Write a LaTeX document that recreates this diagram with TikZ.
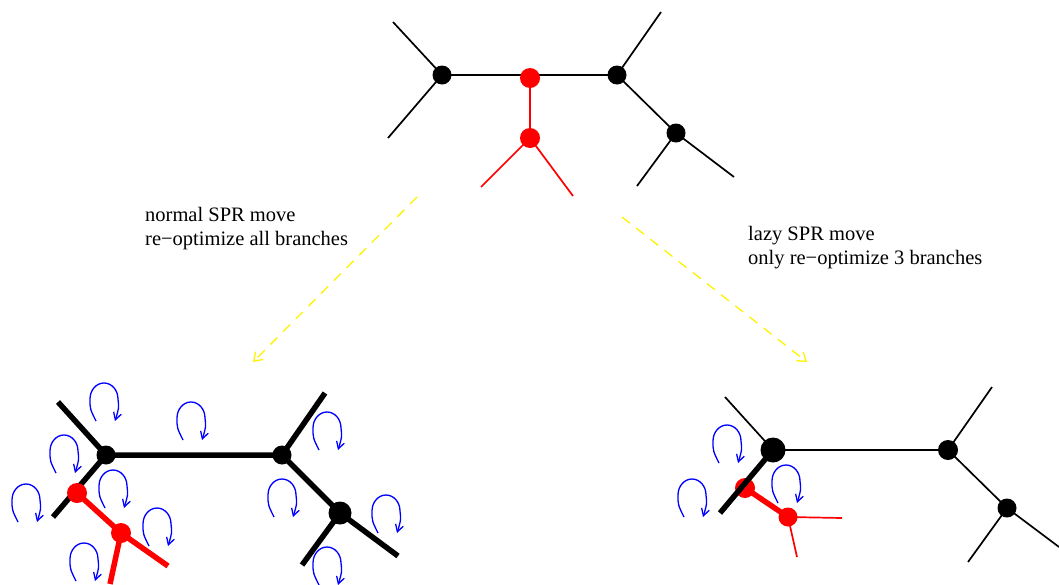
\documentclass[tikz,border=0pt]{standalone}
\usepackage{fontspec}
\setmainfont{Liberation Serif}
\usetikzlibrary{arrows.meta,backgrounds}
\tikzset{
  dot/.style={circle,fill,inner sep=0pt,minimum size=#1},
  dot/.default=19pt,
  twig/.style={line width=1.7pt},
  bough/.style={line width=5.5pt},
  note/.style={anchor=base west,inner sep=0pt,align=left,font=\fontsize{20.5}{24}\selectfont},
  movearrow/.style={yellow,line width=1.3pt,dash pattern=on 10pt off 8pt,-{Straight Barb[length=8pt,width=11pt]}},
  pics/spin/.style={code={
    \draw[blue,line width=1.3pt,-{Straight Barb[length=7pt,width=8pt]}]
      (-8,22) .. controls (-14,10) .. (-14,0) arc[start angle=180,end angle=360,x radius=14,y radius=16]
      .. controls (15,9) .. (11,22);}}
}
\begin{document}
\begin{tikzpicture}[x=1pt,y=-1pt]
			\useasboundingbox (0,0) rectangle (1059,584);
			% top tree
			\node at (442,75) [dot] (tl) {};
			\node at (617,75) [dot] (tr) {};
			\node at (676,133) [dot] (trr) {};
			\node at (530,78) [dot=20pt,red] (tp) {};
			\node at (530,138) [dot=20pt,red] (tq) {};
			\begin{scope}[on background layer]
			\draw[twig] (393,22) coordinate (tl1) -- (tl.center) -- (388,138) coordinate (tl2);
			\draw[twig] (tl.center) -- (tr.center) -- (661,12) coordinate (tr1);
			\draw[twig] (tr.center) -- (trr.center) -- (637,186) coordinate (trr1);
			\draw[twig] (trr.center) -- (734,177) coordinate (trr2);
			\draw[twig,red] (tp.center) -- (tq.center) -- (481,187) coordinate (tq1);
			\draw[twig,red] (tq.center) -- (573,196) coordinate (tq2);
			\end{scope}
			% normal SPR move
			\node at (106,455) [dot] (la) {};
			\node at (282,455) [dot] (lb) {};
			\node at (340,513) [dot=23pt] (lc) {};
			\node at (77,493) [dot=20pt,red] (lp) {};
			\node at (121,533) [dot=20pt,red] (lq) {};
			\begin{scope}[on background layer]
			\draw[bough] (58,402) coordinate (la1) -- (la.center) -- (53,517) coordinate (la2);
			\draw[bough] (la.center) -- (lb.center) -- (325,393) coordinate (lb1);
			\draw[bough] (lb.center) -- (lc.center) -- (398,556) coordinate (lc1);
			\draw[bough] (lc.center) -- (302,565) coordinate (lc2);
			\draw[bough,red] (lp.center) -- (lq.center) -- (168,566) coordinate (lq1);
			\draw[bough,red] (lq.center) -- (110,584) coordinate (lq2);
			\end{scope}
			\foreach \p in {(104,399),(191,418),(64,451),(327,428),(113,486),(26,500),(282,495),(157,524),(386,511),(84,559),(327,563)}
				\pic at \p {spin};
			% lazy SPR move
			\node at (773,450) [dot=25pt] (rd) {};
			\node at (948,450) [dot=20pt] (rg) {};
			\node at (1007,508) [dot] (rh) {};
			\node at (745,488) [dot=20pt,red] (rp) {};
			\node at (788,517) [dot=19pt,red] (rq) {};
			\begin{scope}[on background layer]
			\draw[twig] (725,397) coordinate (rd1) -- (rd.center) -- (rg.center) -- (992,387) coordinate (rg1);
			\draw[twig] (rg.center) -- (rh.center) -- (968,562) coordinate (rh1);
			\draw[twig] (rh.center) -- (1059,547) coordinate (rh2);
			\draw[twig,red] (842,518) coordinate (rq1) -- (rq.center) -- (797,557) coordinate (rq2);
			\draw[bough,red] (rp.center) -- (rq.center);
			\end{scope}
			\draw[bough] (rd.center) -- (720,513) coordinate (rd2);
			\foreach \p in {(727,441),(692,495),(786,481)}
				\pic at \p {spin};
			% moves
			\coordinate (a1) at (417,197);
			\coordinate (a2) at (253,362);
			\coordinate (b1) at (622,217);
			\coordinate (b2) at (807,362);
			\draw[movearrow] (a1) -- (a2);
			\draw[movearrow] (b1) -- (b2);
			\node at (145,245) [note] (normal) {normal SPR move\\re−optimize all branches};
			\node at (748,264) [note] (lazy) {lazy SPR move\\only re−optimize 3 branches};
	\end{tikzpicture}
\end{document}
